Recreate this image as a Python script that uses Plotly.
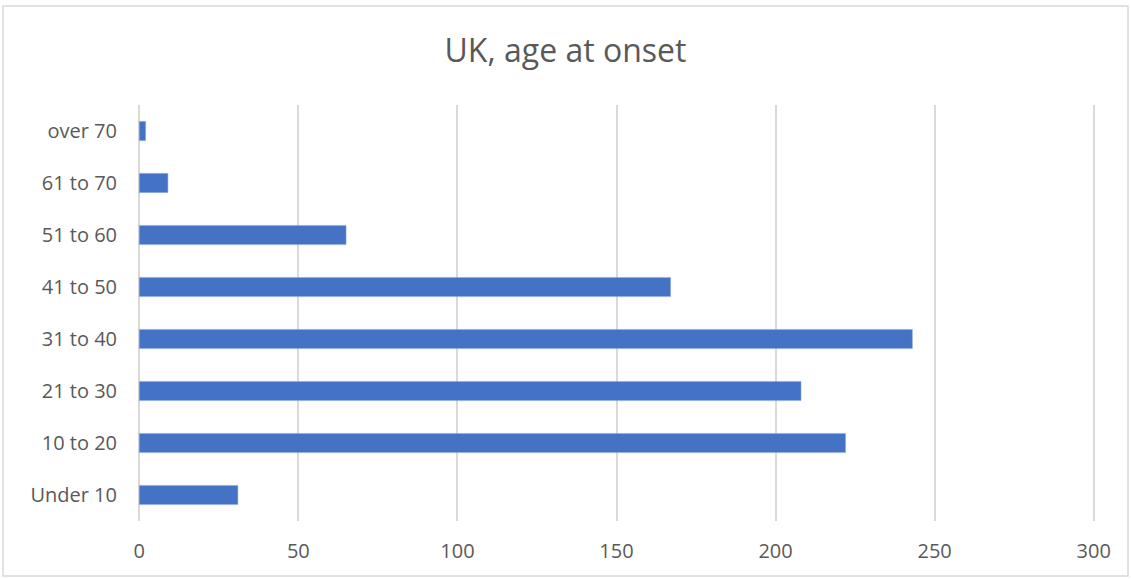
import plotly.graph_objects as go

categories = ["Under 10", "10 to 20", "21 to 30", "31 to 40", "41 to 50", "51 to 60", "61 to 70", "over 70"]
values = [31, 222, 208, 243, 167, 65, 9, 2]
x_ticks = [0, 50, 100, 150, 200, 250, 300]
title_text = "UK, age at onset"

W, H = 1131, 579
L, R, T, B = 138, 36, 105, 58
pw, ph = W - L - R, H - T - B

fig = go.Figure(go.Bar(
    x=values, y=categories, orientation="h",
    marker=dict(color="#4472C4", line=dict(color="#8FAADC", width=0.5)),
    width=0.37,
))

fig.update_layout(
    width=W, height=H,
    margin=dict(l=L, r=R, t=T, b=B, pad=0),
    paper_bgcolor="white", plot_bgcolor="white",
    font=dict(family="Open Sans, Lato, sans-serif", color="#595959"),
    title=dict(text=title_text, x=0.5, xanchor="center", y=1 - 51 / H, yanchor="middle",
               font=dict(size=32, color="#595959")),
    showlegend=False,
    xaxis=dict(range=[-0.4, 300.4], tickvals=x_ticks, showgrid=True, gridcolor="#D9D9D9", gridwidth=2,
               zeroline=True, zerolinecolor="#D9D9D9", zerolinewidth=2,
               showline=False, ticks="", ticklabelstandoff=16,
               tickfont=dict(size=20, color="#595959")),
    yaxis=dict(categoryorder="array", categoryarray=categories, showgrid=False, zeroline=False,
               showline=False, ticks="", ticklabelstandoff=20,
               tickfont=dict(size=20, color="#595959")),
    shapes=[dict(type="rect", xref="paper", yref="paper",
                 x0=(3 - L) / pw, x1=(1128 - L) / pw,
                 y0=(H - B - 576) / ph, y1=(H - B - 6) / ph,
                 line=dict(color="#D9D9D9", width=1.5), layer="below")],
)

fig.write_html("out.html", config={"displayModeBar": False},
               post_script="document.body.style.margin='0';")
